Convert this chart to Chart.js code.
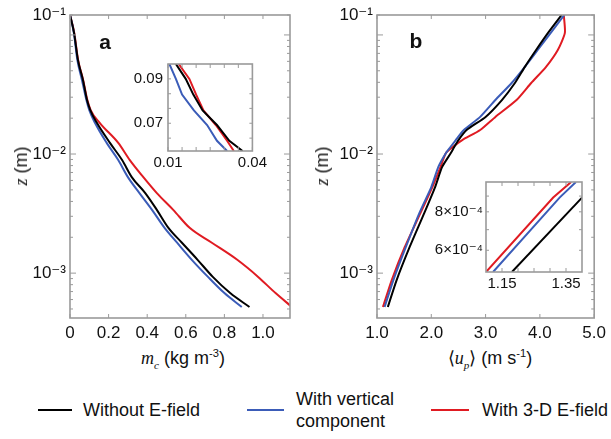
<!DOCTYPE html>
<html>
<head>
<meta charset="utf-8">
<script src="https://cdn.jsdelivr.net/npm/chart.js@4.4.1/dist/chart.umd.min.js"></script>
<style>
  body { margin: 0; background: #fff; }
  #wrap { position: relative; width: 611px; height: 439px; overflow: hidden;
          font-family: 'Liberation Sans', Arial, sans-serif; color: #111; }
  canvas { position: absolute; }
  .lbl { position: absolute; white-space: nowrap; line-height: 1; transform: translate(-50%, -50%); }
  .math { font-family: 'Liberation Serif', 'DejaVu Serif', serif; font-style: italic; }
  sub, sup { font-size: 0.62em; line-height: 0; }
  .panel { font-weight: bold; font-size: 21px; }
  .axt { font-size: 18px; }
  .leg { position: absolute; font-size: 18px; line-height: 22px; white-space: nowrap; }
  .swatch { position: absolute; height: 2px; }
</style>
</head>
<body>
<div id="wrap">
  <canvas id="mainA" width="305" height="345" style="left:0;top:0"></canvas>
  <canvas id="mainB" width="305" height="345" style="left:306px;top:0"></canvas>
  <canvas id="insetA" width="150" height="130" style="left:120px;top:50px"></canvas>
  <canvas id="insetB" width="170" height="130" style="left:420px;top:170px"></canvas>

  <div class="lbl panel" style="left:105px;top:41px">a</div>
  <div class="lbl panel" style="left:416px;top:40px">b</div>

  <div class="lbl axt" style="left:21px;top:166px;transform:translate(-50%,-50%) rotate(-90deg)"><span class="math">z</span> (m)</div>
  <div class="lbl axt" style="left:322px;top:166px;transform:translate(-50%,-50%) rotate(-90deg)"><span class="math">z</span> (m)</div>
  <div class="lbl axt" style="left:183px;top:358px"><span class="math">m<sub>c</sub></span> (kg m<sup>-3</sup>)</div>
  <div class="lbl axt" style="left:490px;top:358px">⟨<span class="math">u<sub>p</sub></span>⟩ (m s<sup>-1</sup>)</div>

  <div class="swatch" style="left:38px;top:409px;width:34px;background:#000"></div>
  <div class="leg" style="left:83px;top:399px">Without E-field</div>
  <div class="swatch" style="left:247px;top:409px;width:37px;background:#3b5cb8"></div>
  <div class="leg" style="left:296px;top:388px">With vertical<br>component</div>
  <div class="swatch" style="left:431px;top:409px;width:38px;background:#e01b22"></div>
  <div class="leg" style="left:482px;top:399px">With 3-D E-field</div>
</div>
<script>
// panel a: mass concentration vs height
const Z_A = [0.147, 0.104, 0.0617, 0.0419, 0.0284, 0.0234, 0.0182, 0.0124, 0.0089, 0.0064, 0.0047, 0.0034, 0.0024, 0.0018, 0.0013, 0.00093, 0.00068, 0.00052];
const MC_BLACK = [0, 0.021, 0.041, 0.067, 0.088, 0.105, 0.14, 0.207, 0.27, 0.32, 0.39, 0.45, 0.51, 0.58, 0.66, 0.74, 0.83, 0.93];
const MC_BLUE  = [0, 0.020, 0.038, 0.062, 0.085, 0.100, 0.13, 0.190, 0.25, 0.30, 0.36, 0.425, 0.49, 0.555, 0.63, 0.715, 0.80, 0.89];
const MC_RED   = [0, 0.022, 0.042, 0.068, 0.090, 0.107, 0.155, 0.25, 0.31, 0.38, 0.45, 0.535, 0.62, 0.735, 0.865, 0.975, 1.065, 1.15];

// panel b: mean particle speed vs height
const Z_B = [0.147, 0.104, 0.0747, 0.0537, 0.0395, 0.0284, 0.0205, 0.0159, 0.0131, 0.0114, 0.0102, 0.0078, 0.00528, 0.00319, 0.00165, 0.00087, 0.00052];
const UP_BLACK = [4.40, 4.15, 3.93, 3.72, 3.54, 3.30, 3.00, 2.65, 2.50, 2.42, 2.36, 2.20, 2.07, 1.87, 1.60, 1.36, 1.20];
const UP_BLUE  = [4.45, 4.20, 3.96, 3.72, 3.48, 3.18, 2.90, 2.60, 2.45, 2.35, 2.27, 2.13, 2.00, 1.78, 1.53, 1.30, 1.14];
const UP_RED   = [4.44, 4.46, 4.33, 4.11, 3.84, 3.57, 3.18, 2.90, 2.57, 2.39, 2.27, 2.17, 2.02, 1.80, 1.51, 1.27, 1.11];

// inset a (top of the layer, linear)
const Z_INSET_A = [0.0967, 0.090, 0.0829, 0.0758, 0.0692, 0.0621, 0.0575];
const MC_INSET_BLACK = [0.0128, 0.0163, 0.0190, 0.0223, 0.0274, 0.0318, 0.0365];
const MC_INSET_BLUE  = [0.0105, 0.0128, 0.0150, 0.0192, 0.0239, 0.0274, 0.0310];
const MC_INSET_RED   = [0.0138, 0.0176, 0.0200, 0.0226, 0.0270, 0.0310, 0.0334];

// inset b (near the bed)
const Z_INSET_B = [0.00051, 0.00089, 0.0010];
const UP_INSET_BLACK = [1.181, 1.40, 1.45];
const UP_INSET_BLUE  = [1.122, 1.33, 1.381];
const UP_INSET_RED   = [1.100, 1.31, 1.366];

const SERIES = ['Without E-field', 'With vertical component', 'With 3-D E-field'];
const COLORS = ['#000000', '#3b5cb8', '#e01b22'];

// axes
const Z_MIN = 0.00042, Z_MAX = 0.147;
const Z_LABEL_AT = [Z_MAX, 0.01, 0.001];
const Z_LABELS = ['10⁻¹', '10⁻²', '10⁻³'];
const MC_TICKS = [0, 0.2, 0.4, 0.6, 0.8, 1.0];
const MC_LABELS = ['0', '0.2', '0.4', '0.6', '0.8', '1.0'];
const UP_TICKS = [1, 2, 3, 4, 5];
const UP_LABELS = ['1.0', '2.0', '3.0', '4.0', '5.0'];
const IA_X_TICKS = [0.01, 0.015, 0.02, 0.025, 0.03, 0.035, 0.04];
const IA_X_LABEL_AT = [0.01, 0.04];
const IA_X_LABELS = ['0.01', '0.04'];
const IA_Y_TICKS = [0.0633, 0.07, 0.0767, 0.0833, 0.09];
const IA_Y_LABEL_AT = [0.07, 0.09];
const IA_Y_LABELS = ['0.07', '0.09'];
const IB_X_TICKS = [1.15, 1.2, 1.25, 1.3, 1.35];
const IB_X_LABEL_AT = [1.15, 1.35];
const IB_X_LABELS = ['1.15', '1.35'];
const IB_Y_TICKS = [0.0006, 0.0007, 0.0008, 0.0009];
const IB_Y_LABEL_AT = [0.0006, 0.0008];
const IB_Y_LABELS = ['6×10⁻⁴', '8×10⁻⁴'];

const FONT = "'Liberation Sans', Arial, 'DejaVu Sans', sans-serif";
Chart.defaults.font.family = FONT;
Chart.defaults.color = '#111';

const same = (a, b) => Math.abs(a - b) < 1e-9 + 1e-6 * Math.abs(b);

function logTicks(min, max) {
  const out = [];
  for (let e = Math.floor(Math.log10(min)); e <= Math.ceil(Math.log10(max)); e++) {
    for (let m = 1; m < 10; m++) {
      const v = m * Math.pow(10, e);
      if (v >= min && v <= max) out.push(v);
    }
  }
  return out;
}

// frame box + small inward ticks on all four sides
const frame = {
  id: 'frame',
  beforeDatasetsDraw(chart) {
    const { ctx, chartArea: a } = chart;
    ctx.save();
    ctx.fillStyle = '#fff';
    ctx.fillRect(a.left, a.top, a.width, a.height);
    ctx.restore();
  },
  afterDatasetsDraw(chart) {
    const { ctx, chartArea: a, scales: { x, y } } = chart;
    const seg = (x1, y1, x2, y2) => { ctx.beginPath(); ctx.moveTo(x1, y1); ctx.lineTo(x2, y2); ctx.stroke(); };
    ctx.save();
    ctx.strokeStyle = '#9a9a9a';
    ctx.lineWidth = 1;
    x.ticks.forEach(t => {
      const p = x.getPixelForValue(t.value);
      seg(p, a.bottom, p, a.bottom - 4);
      seg(p, a.top, p, a.top + 4);
    });
    y.ticks.forEach(t => {
      const p = y.getPixelForValue(t.value);
      const lg = Math.log10(t.value);
      const len = (y.type === 'logarithmic' && Math.abs(lg - Math.round(lg)) < 1e-6) ? 6 : 3;
      seg(a.left, p, a.left + len, p);
      seg(a.right, p, a.right - len, p);
    });
    ctx.lineWidth = 1.6;
    ctx.strokeRect(a.left, a.top, a.width, a.height);
    ctx.restore();
  }
};

function axis(type, min, max, tickValues, labelAt, labels, size, fontSize, pad) {
  return {
    type, min, max,
    afterBuildTicks: s => { s.ticks = tickValues.slice().sort((p, q) => p - q).map(v => ({ value: v })); },
    afterFit: s => { if (s.isHorizontal()) s.height = size; else s.width = size; },
    grid: { display: false, drawTicks: false },
    border: { display: false },
    ticks: {
      autoSkip: false, maxRotation: 0, padding: pad, color: '#111',
      font: { family: FONT, size: fontSize },
      callback: v => {
        const i = labelAt.findIndex(l => same(v, l));
        return i < 0 ? '' : labels[i];
      }
    }
  };
}

function series(xs, zs, i, smooth) {
  const ds = {
    label: SERIES[i],
    data: zs.map((z, k) => ({ x: xs[k], y: z })),
    borderColor: COLORS[i],
    borderWidth: 2,
    pointRadius: 0,
    fill: false
  };
  if (smooth === 'monotone') ds.cubicInterpolationMode = 'monotone';
  else ds.tension = smooth;
  return ds;
}

function plot(id, datasets, xAxis, yAxis, padding) {
  new Chart(document.getElementById(id), {
    type: 'line',
    data: { datasets },
    options: {
      responsive: false,
      animation: false,
      layout: { padding },
      plugins: { legend: { display: false }, tooltip: { enabled: false } },
      scales: { x: xAxis, y: yAxis }
    },
    plugins: [frame]
  });
}

const zTicks = logTicks(Z_MIN, Z_MAX).concat([Z_MAX]);

plot('mainA',
  [series(MC_BLACK, Z_A, 0, 'monotone'), series(MC_BLUE, Z_A, 1, 'monotone'), series(MC_RED, Z_A, 2, 'monotone')],
  axis('linear', 0, 1.14, MC_TICKS, MC_TICKS, MC_LABELS, 27, 17, 5),
  axis('logarithmic', Z_MIN, Z_MAX, zTicks, Z_LABEL_AT, Z_LABELS, 70, 17, 4),
  { left: 0, top: 15, right: 15, bottom: 0 });

plot('mainB',
  [series(UP_BLACK, Z_B, 0, 0.2), series(UP_BLUE, Z_B, 1, 0.2), series(UP_RED, Z_B, 2, 0.2)],
  axis('linear', 1, 5, UP_TICKS, UP_TICKS, UP_LABELS, 27, 17, 5),
  axis('logarithmic', Z_MIN, Z_MAX, zTicks, Z_LABEL_AT, Z_LABELS, 71, 17, 4),
  { left: 0, top: 15, right: 14, bottom: 0 });

plot('insetA',
  [series(MC_INSET_BLACK, Z_INSET_A, 0, 0), series(MC_INSET_BLUE, Z_INSET_A, 1, 0), series(MC_INSET_RED, Z_INSET_A, 2, 0)],
  axis('linear', 0.01, 0.04, IA_X_TICKS, IA_X_LABEL_AT, IA_X_LABELS, 29, 15, 3),
  axis('linear', 0.0575, 0.0967, IA_Y_TICKS, IA_Y_LABEL_AT, IA_Y_LABELS, 48, 15, 5),
  { left: 0, top: 7, right: 7, bottom: 0 });

plot('insetB',
  [series(UP_INSET_BLACK, Z_INSET_B, 0, 0), series(UP_INSET_BLUE, Z_INSET_B, 1, 0), series(UP_INSET_RED, Z_INSET_B, 2, 0)],
  axis('linear', 1.1, 1.4, IB_X_TICKS, IB_X_LABEL_AT, IB_X_LABELS, 28, 15, 3),
  axis('logarithmic', 0.00051, 0.001, IB_Y_TICKS, IB_Y_LABEL_AT, IB_Y_LABELS, 66, 15, 3),
  { left: 0, top: 6, right: 8, bottom: 0 });
</script>
</body>
</html>
